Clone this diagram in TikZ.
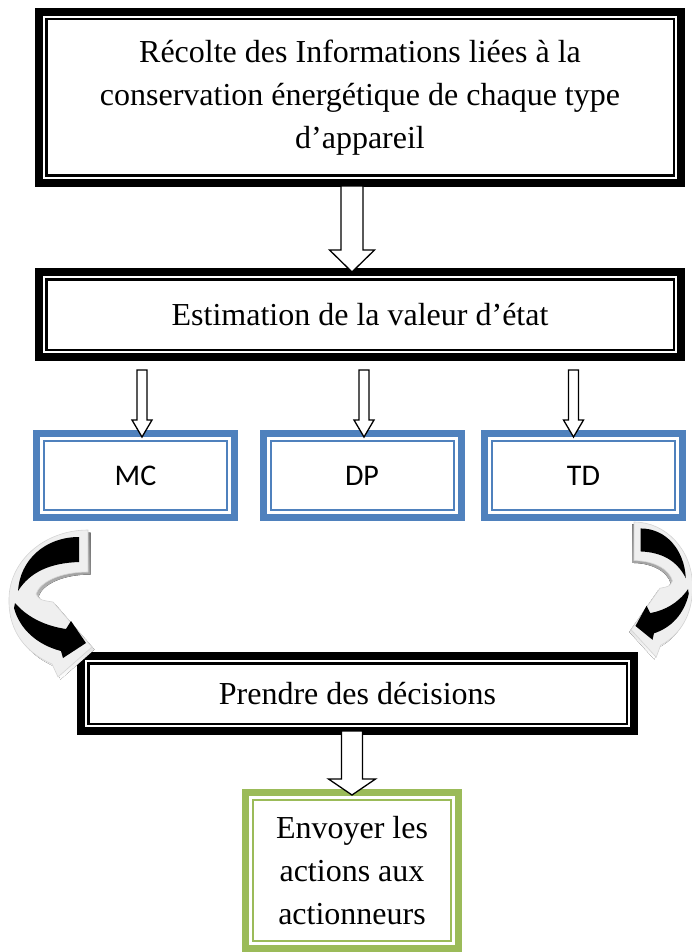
\documentclass[tikz,border=0pt]{standalone}
\usepackage{fontspec}
\setmainfont{Liberation Serif}
\newfontfamily\calibrifont{Carlito}
\usetikzlibrary{calc}
\definecolor{blueC}{HTML}{4F81BD}
\definecolor{greenC}{HTML}{9BBB59}
\definecolor{bevel}{HTML}{EFEFEF}
\definecolor{bevelline}{HTML}{D4D4D4}
\definecolor{shade}{HTML}{BDBDBD}

% thin inner line of a double frame: node name, inset from the outer edge, style
\newcommand\innerframe[3]{%
  \draw[#3] ([shift={(#2,#2)}]#1.north west) rectangle ([shift={(-#2,-#2)}]#1.south east);}

% hollow block arrow: start, tip, shaft half width, head half width, head length
\newcommand\hollowarrow[5]{%
  \draw[hollow] let \p1=(#1), \p2=(#2) in
    (\x2-#3,\y1) -- (\x2-#3,\y2+#5) -- (\x2-#4,\y2+#5) -- (\x2,\y2)
    -- (\x2+#4,\y2+#5) -- (\x2+#3,\y2+#5) -- (\x2+#3,\y1) -- cycle;}

% curved arrow with bevel, drawn in local coordinates (tail at the origin)
\newcommand\curvedarrow{%
  \fill[shade] [shift={(2.5,2.5)}]
    (0,0) -- (0,42) .. controls (-28,42) and (-48,52) .. (-52,64)
    .. controls (-48,70) .. (-35,72) -- (4,117) -- (-30,147) -- (-36,134)
    .. controls (-68,120) and (-80,95) .. (-79,68)
    .. controls (-78,30) and (-43,0) .. (0,0) -- cycle;
  \filldraw[fill=bevel, draw=bevelline, line width=0.6pt]
    (0,0) -- (0,42) .. controls (-28,42) and (-48,52) .. (-52,64)
    .. controls (-48,70) .. (-35,72) -- (4,117) -- (-30,147) -- (-36,134)
    .. controls (-68,120) and (-80,95) .. (-79,68)
    .. controls (-78,30) and (-43,0) .. (0,0) -- cycle;
  \fill[black]
    (-9,7) -- (-9,32) .. controls (-38,33) and (-58,42) .. (-70,61)
    .. controls (-68,30) and (-43,7) .. (-9,7) -- cycle;
  \fill[black]
    (-73,73) .. controls (-60,88) and (-42,96) .. (-22,99) -- (-17,91)
    -- (-2,113) -- (-25,128) -- (-27,121)
    .. controls (-50,115) and (-68,100) .. (-74,78) -- cycle;}

\begin{document}
\begin{tikzpicture}[x=1pt, y=-1pt,
  blackbox/.style={draw=black, line width=8pt, fill=white, inner sep=0pt,
    align=center, font=\fontsize{32}{43}\selectfont},
  bluebox/.style={draw=blueC, line width=7pt, fill=white, inner sep=0pt,
    minimum width=198pt, minimum height=84pt,
    font=\calibrifont\fontsize{30}{36}\selectfont},
  greenbox/.style={draw=greenC, line width=7pt, fill=white, inner sep=0pt,
    align=center, font=\fontsize{32}{43}\selectfont},
  blackinner/.style={draw=black, line width=2.5pt},
  blueinner/.style={draw=blueC, line width=2pt},
  greeninner/.style={draw=greenC, line width=2pt},
  hollow/.style={draw=black, line width=1.3pt, fill=white, line join=miter}]

\useasboundingbox (0,0) rectangle (691,952);

% boxes
\node[blackbox, minimum width=642pt, minimum height=171pt] (collect) at (360,97.5)
  {Récolte des Informations liées à la\\conservation énergétique de chaque type\\d’appareil};
\node[blackbox, minimum width=642pt, minimum height=85pt] (estim) at (360,314.5)
  {Estimation de la valeur d’état};
\node[bluebox] (mc) at (135.5,475.5) {MC};
\node[bluebox] (dp) at (362,475.5) {DP};
\node[bluebox] (td) at (583.5,475.5) {TD};
\node[blackbox, minimum width=553pt, minimum height=75pt] (decide) at (357.5,693.5)
  {Prendre des décisions};
\node[greenbox, minimum width=213pt, minimum height=156pt] (send) at (352,870.5)
  {Envoyer les\\actions aux\\actionneurs};

% inner lines of the double frames
\innerframe{collect}{11.25}{blackinner}
\innerframe{estim}{11.25}{blackinner}
\innerframe{decide}{11.25}{blackinner}
\innerframe{mc}{11}{blueinner}
\innerframe{dp}{11}{blueinner}
\innerframe{td}{11}{blueinner}
\innerframe{send}{11}{greeninner}

% block arrows
\hollowarrow{[xshift=-8pt,yshift=1pt]collect.south}{[xshift=-8pt,yshift=-4pt]estim.north}{11pt}{22.5pt}{22pt}
\hollowarrow{[xshift=6.5pt,yshift=-9pt]estim.south}{[xshift=6.5pt,yshift=-7pt]mc.north}{5pt}{10pt}{17pt}
\hollowarrow{[xshift=2pt,yshift=-9pt]estim.south}{[xshift=2pt,yshift=-7pt]dp.north}{5pt}{10pt}{17pt}
\hollowarrow{[xshift=-10pt,yshift=-9pt]estim.south}{[xshift=-10pt,yshift=-7pt]td.north}{5pt}{10pt}{17pt}
\hollowarrow{[xshift=-5pt,yshift=4pt]decide.south}{[yshift=-6pt]send.north}{10.5pt}{23.5pt}{16pt}

% curved arrows from the methods to the decision box
\begin{scope}[shift={(88,530)}]
  \curvedarrow
\end{scope}
\begin{scope}[shift={(634,522)}, xscale=-0.74, yscale=0.92]
  \curvedarrow
\end{scope}
\end{tikzpicture}
\end{document}
